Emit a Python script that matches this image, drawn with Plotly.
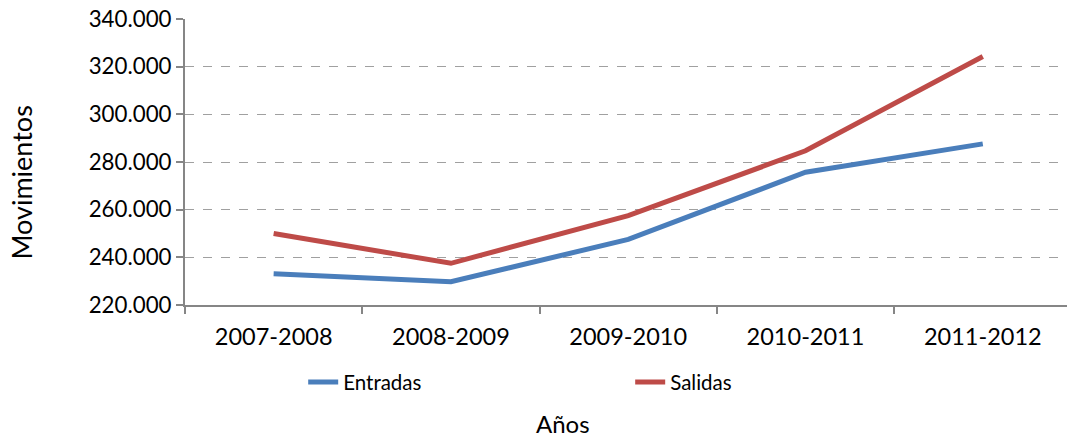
import plotly.graph_objects as go

# Movimientos por curso académico
cursos = ["2007-2008", "2008-2009", "2009-2010", "2010-2011", "2011-2012"]
entradas = [233100, 229800, 247500, 275700, 287600]
salidas = [250000, 237500, 257500, 284700, 324300]

FONT = "Lato"

fig = go.Figure()
fig.add_trace(go.Scatter(x=cursos, y=entradas, name="Entradas", mode="lines",
                         line=dict(color="#4A7EBB", width=5)))
fig.add_trace(go.Scatter(x=cursos, y=salidas, name="Salidas", mode="lines",
                         line=dict(color="#BE4B48", width=5)))

fig.update_layout(
    width=1067, height=440,
    margin=dict(l=185, r=0, t=19, b=135),
    paper_bgcolor="white", plot_bgcolor="white",
    separators=",.",
    font=dict(family=FONT, size=20, color="black"),
    showlegend=True,
    legend=dict(orientation="h", x=0.134, xanchor="left", y=-0.27, yanchor="middle",
                entrywidth=282, entrywidthmode="pixels", font=dict(size=20.5)),
    xaxis=dict(
        type="category", range=[-0.5, 4.475],
        showline=True, linecolor="#868686", linewidth=2,
        ticks="outside", tickson="boundaries", ticklen=7, tickcolor="#868686", tickwidth=2,
        showgrid=False, tickfont=dict(size=23.5), ticklabelstandoff=10,
    ),
    yaxis=dict(
        range=[220000, 340000], dtick=20000, tickformat=",d",
        showline=True, linecolor="#868686", linewidth=2,
        ticks="outside", ticklen=7, tickcolor="#868686", tickwidth=2,
        showgrid=True, gridcolor="#A0A0A0", griddash="dash", gridwidth=1,
        zeroline=False, tickfont=dict(size=22.3),
    ),
    annotations=[
        dict(text="Movimientos", textangle=-90, xref="paper", yref="paper",
             x=-0.1848, y=0.428, xanchor="center", yanchor="middle",
             showarrow=False, font=dict(size=27)),
        dict(text="Años", xref="paper", yref="paper",
             x=0.4286, y=-0.416, xanchor="center", yanchor="middle",
             showarrow=False, font=dict(size=24)),
    ],
)

fig.write_html("out.html")
